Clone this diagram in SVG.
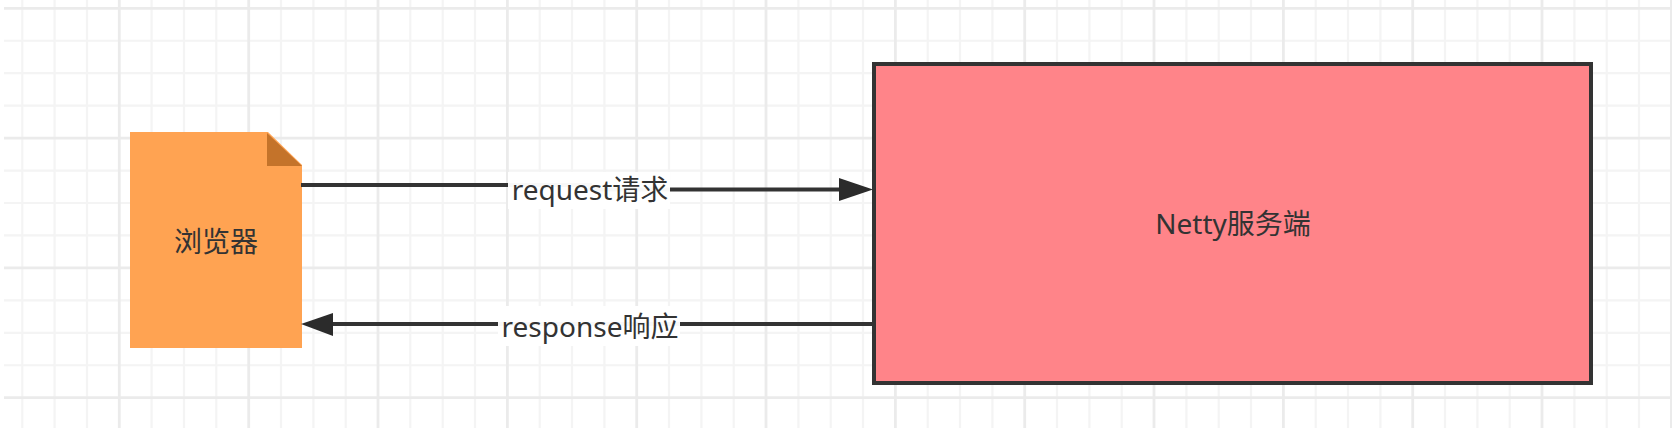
<svg xmlns="http://www.w3.org/2000/svg" width="1672" height="432" viewBox="0 0 1672 432">
<style>
.minor{fill:none;stroke:#f4f4f4;stroke-width:2.2}
.major{fill:none;stroke:#ebebeb;stroke-width:2.8}
.edge{fill:none;stroke:#333;stroke-width:4}
.head{fill:#2b2b2b}
.label{fill:#fff;fill-opacity:.97}
text{font-family:"Noto Sans","Noto Sans CJK SC",sans-serif;font-size:28px;fill:#333;text-anchor:middle}
</style>
<defs><filter id="soft" x="-5%" y="-5%" width="110%" height="110%"><feGaussianBlur stdDeviation="0.6"/></filter></defs>
<rect width="1672" height="432" fill="#fff"/>
<g id="grid" filter="url(#soft)">
<path class="minor" d="M4 40.75H1672M4 73.2H1672M4 105.65H1672M4 170.55H1672M4 203H1672M4 235.45H1672M4 300.35H1672M4 332.8H1672M4 365.25H1672"/>
<path class="minor" d="M22.3 0V428M54.6 0V428M87 0V428M151.6 0V428M184 0V428M216.3 0V428M281 0V428M313.4 0V428M345.7 0V428M410.3 0V428M442.7 0V428M475 0V428M539.7 0V428M572 0V428M604.4 0V428M669 0V428M701.4 0V428M733.7 0V428M798.4 0V428M830.7 0V428M863 0V428M927.7 0V428M960 0V428M992.4 0V428M1057 0V428M1089.4 0V428M1121.7 0V428M1186.4 0V428M1218.7 0V428M1251 0V428M1315.7 0V428M1348 0V428M1380.4 0V428M1445 0V428M1477.4 0V428M1509.7 0V428M1574.4 0V428M1606.7 0V428M1639 0V428"/>
<path class="major" d="M4 8.3H1672M4 138.1H1672M4 267.9H1672M4 397.7H1672"/>
<path class="major" d="M119.3 0V428M248.7 0V428M378 0V428M507.4 0V428M636.7 0V428M766 0V428M895.4 0V428M1024.7 0V428M1154 0V428M1283.4 0V428M1412.7 0V428M1542 0V428M1671.4 0V428"/>
</g>
<g id="node-browser">
<path d="M130 132H268L302 165V348H130Z" fill="#ffa352"/>
<path d="M267 133L302 166H267Z" fill="#c4732a"/>
<text x="216" y="252">浏览器</text>
</g>
<g id="node-netty">
<rect x="874" y="64" width="717" height="319" fill="#ff8489" stroke="#333" stroke-width="4"/>
<text x="1233" y="234">Netty服务端</text>
</g>
<g id="connectors">
<g id="edge-request">
<path class="edge" d="M301 185H590V189.5H842"/>
<path class="head" d="M873 189.5L839 178V201Z"/>
<rect class="label" x="508" y="172" width="162" height="37"/>
<text x="590" y="200">request请求</text>
</g>
<g id="edge-response">
<path class="edge" d="M872 324H332"/>
<path class="head" d="M301 324L333 313V336Z"/>
<rect class="label" x="498" y="306" width="182" height="40"/>
<text x="590" y="337">response响应</text>
</g>
</g>
</svg>
